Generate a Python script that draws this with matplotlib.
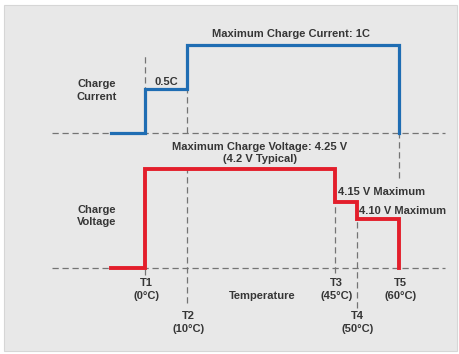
import matplotlib
matplotlib.use('Agg')
import matplotlib.pyplot as plt
from matplotlib.patches import Rectangle

plt.rcParams['font.family'] = ['Liberation Sans', 'DejaVu Sans']

# temperature breakpoints (deg C)
t_labels = ['T1', 'T2', 'T3', 'T4', 'T5']
t_values = [0, 10, 45, 50, 60]
t_start = -8

# charge current (C rate) stepping with temperature
current_x = [t_start, 0, 10, 60, 60]
current_y = [0, 0.5, 1, 0, 0]

# charge voltage (V), baseline is the "off" level
volt_base = 3.95
volt_x = [t_start, 0, 45, 50, 60, 60]
volt_y = [volt_base, 4.25, 4.15, 4.10, volt_base, volt_base]

blue = '#1f6db3'
red = '#e31e2b'
dash_c = '#747474'
txt_c = '#363636'

fig = plt.figure(figsize=(4.6, 3.54), dpi=100)
fig.patch.set_facecolor('white')

k = 4.23  # px per degree
xlim = (-145/k, (460-145)/k)

ax_i = fig.add_axes([0, 0, 1, 1])
ax_v = fig.add_axes([0, 0, 1, 1])
for ax in (ax_i, ax_v):
    ax.set_xlim(xlim)
    ax.axis('off')
    ax.patch.set_alpha(0)

ax_i.add_patch(Rectangle((4/460, 3/354), 453/460, 346/354, transform=fig.transFigure,
                         facecolor='#e8e8e8', edgecolor='#d6d6d6', lw=0.8, zorder=0))

ax_i.set_ylim(-221/88, 133/88)
vs = 328.6
ax_v.set_ylim(volt_base - 86/vs, volt_base + 268/vs)

dash = dict(color=dash_c, lw=0.9, ls=(0, (5, 3)), zorder=1)

# baselines
ax_i.plot([-22, 71], [0, 0], **dash)
ax_v.plot([-22, 71], [volt_base, volt_base], **dash)

# vertical guides
ax_i.plot([0, 0], [0, 0.9], **dash)
ax_i.plot([10, 10], [0, 0.5], **dash)
ax_i.plot([60, 60], [-0.51, 0], **dash)
ax_v.plot([0, 0], [volt_base - 0.02, 4.25], **dash)
ax_v.plot([10, 10], [volt_base - 0.107, 4.25], **dash)
ax_v.plot([45, 45], [volt_base - 0.015, 4.15], **dash)
ax_v.plot([50, 50], [volt_base - 0.122, 4.10], **dash)

ax_i.plot(current_x, current_y, drawstyle='steps-post', color=blue, lw=2.3,
          solid_joinstyle='miter', zorder=3)
ax_v.plot(volt_x, volt_y, drawstyle='steps-post', color=red, lw=2.8,
          solid_joinstyle='miter', zorder=3)

fs = 8
ls = 1.3
tk = dict(fontsize=fs, fontweight='bold', color=txt_c)

ax_i.text(-11.5, 0.483, 'Charge\nCurrent', ha='center', va='center', linespacing=ls, **tk)
ax_i.text(5.1, 0.583, '0.5C', ha='center', va='center', **tk)
ax_i.text(34.5, 1.12, 'Maximum Charge Current: 1C', ha='center', va='center', **tk)

ax_v.text(-11.5, 4.108, 'Charge\nVoltage', ha='center', va='center', linespacing=ls, **tk)
ax_v.text(27.2, 4.30, 'Maximum Charge Voltage: 4.25 V\n(4.2 V Typical)', ha='center',
          va='center', linespacing=ls, **tk)
ax_v.text(45.7, 4.181, '4.15 V Maximum', ha='left', va='center', **tk)
ax_v.text(50.7, 4.1226, '4.10 V Maximum', ha='left', va='center', **tk)
ax_v.text(27.6, volt_base - 0.0852, 'Temperature', ha='center', va='center', **tk)

low = [True, False, True, False, True]
for lab, t, up in zip(t_labels, t_values, low):
    y = volt_base - 0.065 if up else volt_base - 0.1655
    ax_v.text(t + 0.3, y, lab + '\n(' + str(t) + '°C)', ha='center', va='center',
              linespacing=ls, **tk)

fig.savefig('out.png', dpi=100)
